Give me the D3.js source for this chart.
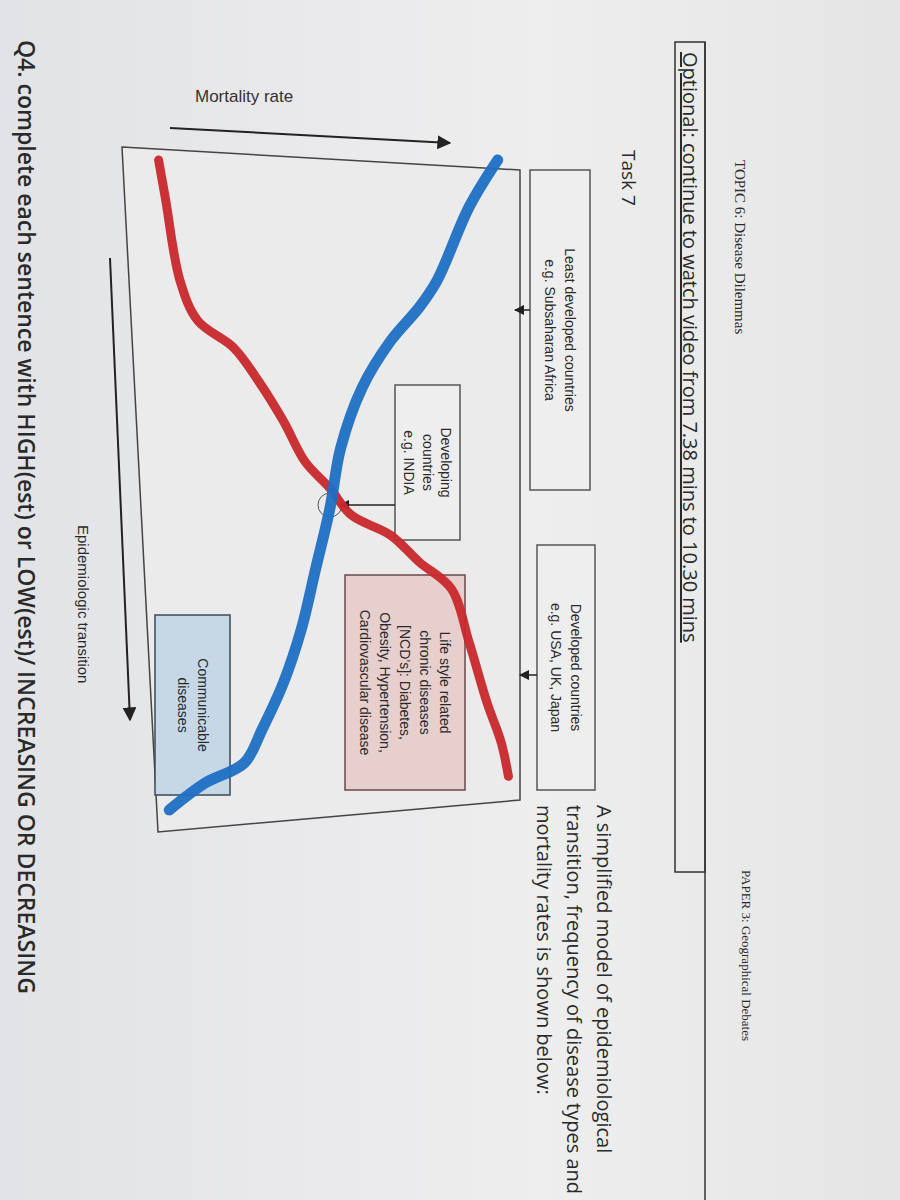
<!DOCTYPE html>
<html><head><meta charset="utf-8">
<script src="https://cdn.jsdelivr.net/npm/d3@7"></script>
<style>body{margin:0;background:#e9e9eb}</style>
</head><body>
<svg id="c" width="900" height="1200"></svg>
<script>
// curve samples: t = position along the transition (0..100), v = level (0..100)
const redT  = [0, 6, 18, 24, 28, 33, 39, 45, 49, 53, 56, 60, 64, 72, 81, 87, 92];
const redV  = [1, 3, 7, 12, 22, 29, 36, 42, 49, 55, 66, 74, 83, 88, 93, 97, 99];
const blueT = [0, 7, 18, 22, 27, 34, 43, 52, 61, 70, 78, 85, 90, 93, 97];
const blueV = [96, 88, 79, 74, 66, 58, 52, 49, 45, 41, 36, 30, 25, 14, 4];

const stageBoxes = [
  {lines:['Least developed countries','e.g. Subsaharan  Africa'], x0:530, x1:590, y0:170, y1:490, fill:'#eeeeee', arrowY:310, arrowTo:515},
  {lines:['Developing','countries','e.g. INDIA'], x0:395, x1:460, y0:385, y1:540, fill:'#eeeeee', arrowY:505, arrowTo:340},
  {lines:['Developed countries','e.g. USA, UK, Japan'], x0:537, x1:595, y0:545, y1:790, fill:'#eeeeee', arrowY:675, arrowTo:520}
];
const diseaseBoxes = [
  {lines:['Life style related','chronic diseases','[NCD\u2019s]:  Diabetes,','Obesity, Hypertension,','Cardiovascular disease'], x0:345, x1:465, y0:575, y1:790, fill:'#e6cfcd', stroke:'#6a4a4a'},
  {lines:['Communicable','diseases'], x0:155, x1:230, y0:615, y1:795, fill:'#c6d8e6', stroke:'#3a4a5a'}
];
const introLines = ['A simplified model of epidemiological','transition, frequency of disease types and','mortality rates is shown below:'];

const svg = d3.select('#c');
const defs = svg.append('defs');
const grad = defs.append('linearGradient').attr('id','paper').attr('x1','0').attr('x2','1');
grad.append('stop').attr('offset','0').attr('stop-color','#e2e3e6');
grad.append('stop').attr('offset','0.6').attr('stop-color','#eeeeef');
grad.append('stop').attr('offset','1').attr('stop-color','#e4e5e4');
svg.append('rect').attr('width',900).attr('height',1200).attr('fill','url(#paper)');
defs.append('marker').attr('id','ah').attr('viewBox','0 0 10 10').attr('refX',9).attr('refY',5)
  .attr('markerWidth',7).attr('markerHeight',7).attr('orient','auto')
  .append('path').attr('d','M0,0L10,5L0,10z').attr('fill','#222');

// vertical text helper (reads top to bottom)
function vtext(x, y, str, size, opts={}){
  return svg.append('text').attr('transform',`translate(${x},${y}) rotate(90)`)
    .attr('font-family', opts.family || 'Liberation Sans, Arial, sans-serif')
    .attr('font-size', size).attr('font-weight', opts.weight || 400)
    .attr('text-anchor', opts.anchor || 'start')
    .attr('fill', opts.fill || '#2a2a2a').text(str);
}

// header
vtext(735, 160, 'TOPIC 6: Disease Dilemmas', 15, {family:'Liberation Serif, serif'});
vtext(742, 870, 'PAPER 3: Geographical Debates', 13, {family:'Liberation Serif, serif'});
svg.append('rect').attr('x',675).attr('y',42).attr('width',30).attr('height',830).attr('fill','none').attr('stroke','#333').attr('stroke-width',1.5);
svg.append('line').attr('x1',705).attr('x2',705).attr('y1',42).attr('y2',1200).attr('stroke','#333').attr('stroke-width',1.5);
vtext(683, 52, 'Optional: continue to watch video from 7.38 mins to 10.30 mins', 20, {family:'Open Sans, sans-serif'})
  .attr('text-decoration','underline');
vtext(622, 150, 'Task 7', 19, {family:'Open Sans, sans-serif'});
introLines.forEach((s,i)=> vtext(597 - i*30, 805, s, 20, {family:'Open Sans, sans-serif'}));
vtext(18, 40, 'Q4. complete each sentence with HIGH(est) or LOW(est)/ INCREASING OR DECREASING', 23, {family:'Open Sans, sans-serif', weight:600});

// axes labels
svg.append('text').attr('x',195).attr('y',102).attr('font-family','Liberation Sans, Arial, sans-serif')
  .attr('font-size',17).attr('fill','#333').text('Mortality rate');
svg.append('line').attr('x1',170).attr('x2',450).attr('y1',128).attr('y2',143).attr('stroke','#222').attr('stroke-width',2).attr('marker-end','url(#ah)');
vtext(78, 525, 'Epidemiologic transition', 15);
svg.append('line').attr('x1',110).attr('x2',130).attr('y1',258).attr('y2',720).attr('stroke','#222').attr('stroke-width',2).attr('marker-end','url(#ah)');

// frame
svg.append('path').attr('d','M122,147 L520,170 L520,800 L158,832 Z').attr('fill','#ebebeb').attr('stroke','#444').attr('stroke-width',1.5);

function box(b, stroke){
  svg.append('rect').attr('x',b.x0).attr('y',b.y0).attr('width',b.x1-b.x0).attr('height',b.y1-b.y0)
    .attr('fill',b.fill).attr('stroke',stroke).attr('stroke-width',1.5);
  const n = b.lines.length, step = Math.min(20,(b.x1-b.x0-10)/n);
  const cx = (b.x0+b.x1)/2, cy = (b.y0+b.y1)/2;
  b.lines.forEach((s,i)=> vtext(cx + (n-1)/2*step - i*step - 5, cy, s, 14, {anchor:'middle'}));
}
stageBoxes.forEach(b=>{
  box(b,'#555');
  svg.append('line').attr('x1',b.x0).attr('x2',b.arrowTo).attr('y1',b.arrowY).attr('y2',b.arrowY)
    .attr('stroke','#222').attr('stroke-width',1.5).attr('marker-end','url(#ah)');
});
diseaseBoxes.forEach(b=>box(b,b.stroke));
svg.append('circle').attr('cx',330).attr('cy',505).attr('r',12).attr('fill','none').attr('stroke','#555');

// curves
const tS = d3.scaleLinear().domain([0,100]).range([160,830]);
const vS = d3.scaleLinear().domain([0,100]).range([155,512]);
const line = d3.line().x(d=>vS(d[1])).y(d=>tS(d[0])).curve(d3.curveCatmullRom);
svg.append('path').attr('d', line(d3.zip(redT, redV))).attr('fill','none')
  .attr('stroke','#c8282c').attr('stroke-width',9).attr('stroke-linecap','round').attr('opacity',0.95);
svg.append('path').attr('d', line(d3.zip(blueT, blueV))).attr('fill','none')
  .attr('stroke','#1f6fc4').attr('stroke-width',11).attr('stroke-linecap','round').attr('opacity',0.95);
</script>
</body></html>
